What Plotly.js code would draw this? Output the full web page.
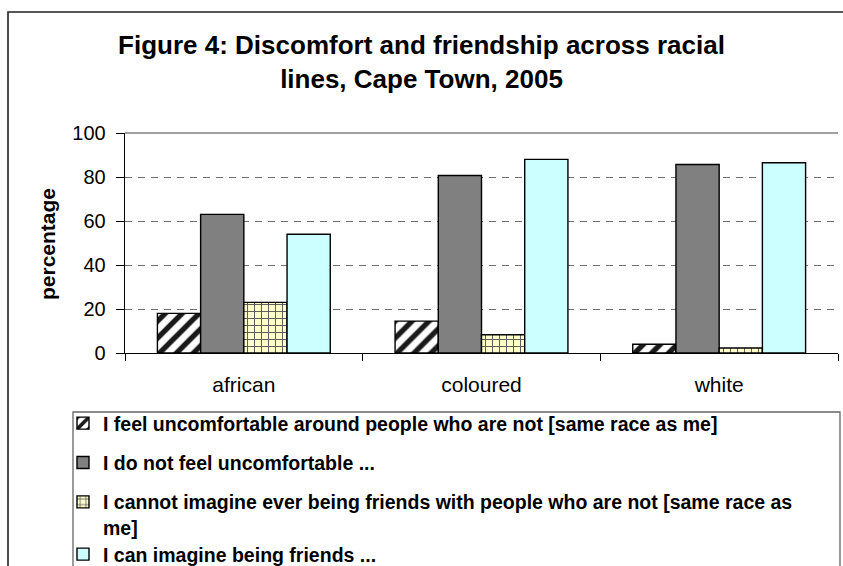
<!DOCTYPE html>
<html><head><meta charset="utf-8">
<script src="https://cdn.plot.ly/plotly-3.0.1.min.js"></script>
<style>html,body{margin:0;padding:0;background:#fff}#chart{width:843px;height:566px}</style>
</head><body><div id="chart"></div>
<script>
const categories = ["african", "coloured", "white"];
const seriesNames = [
  "I feel uncomfortable around people who are not [same race as me]",
  "I do not feel uncomfortable ...",
  "I cannot imagine ever being friends with people who are not [same race as<br>me]",
  "I can imagine being friends ..."
];
const uncomfortable = [18, 14.5, 4];
const notUncomfortable = [63, 80.7, 85.7];
const cannotImagine = [23, 8.3, 2.3];
const canImagine = [54, 88, 86.5];
const yTicks = [0, 20, 40, 60, 80, 100];
const yAxisTitle = "percentage";
const chartTitle = "Figure 4: Discomfort and friendship across racial<br>lines, Cape Town, 2005";

const FONT = "Liberation Sans, Arial, sans-serif";
const outline = {color: "#000", width: 1.4};
const groups = ["g0", "g1", "g2", "g3"];
const legendRefs = ["legend", "legend", "legend", "legend2"];

const traces = [
  {y: uncomfortable, marker: {color: "#fff", line: outline,
     pattern: {shape: "/", fgcolor: "#1a1a1a", bgcolor: "#fff", size: 12, solidity: 0.45}}},
  {y: notUncomfortable, marker: {color: "#808080", line: outline}},
  {y: cannotImagine, marker: {color: "#FFFFCC", line: outline,
     pattern: {shape: "+", fgcolor: "#555", bgcolor: "#FFFFCC", size: 7, solidity: 0.25}}},
  {y: canImagine, marker: {color: "#CCFFFF", line: outline}}
].map((t, i) => Object.assign({
  type: "bar", x: categories, name: seriesNames[i], legendgroup: groups[i],
  legend: legendRefs[i], hoverinfo: "y"
}, t));

const px = v => (v - 125) / 713;
const py = v => (353 - v) / 220;

const legendStyle = (topPx) => ({
  xref: "container", yref: "container", x: 63 / 843, y: 1 - topPx / 566,
  xanchor: "left", yanchor: "top", orientation: "v", valign: "top",
  bgcolor: "rgba(0,0,0,0)", borderwidth: 0, tracegroupgap: 11, traceorder: "grouped",
  font: {family: FONT, size: 19.5, color: "#000", weight: "bold"}
});

const layout = {
  width: 843, height: 566,
  margin: {l: 125, r: 5, t: 133, b: 213, autoexpand: false},
  paper_bgcolor: "#fff", plot_bgcolor: "#fff",
  font: {family: FONT, color: "#000", size: 19},
  barmode: "group", bargap: 0.2727, bargroupgap: 0,
  title: {
    text: "<b>" + chartTitle + "</b>",
    font: {family: FONT, size: 26, color: "#000"},
    x: 0.5, xanchor: "center", xref: "container",
    y: 1 - 54 / 566, yanchor: "top", yref: "container"
  },
  xaxis: {
    type: "category", tickson: "boundaries", ticks: "outside", ticklen: 7,
    tickcolor: "#000", tickwidth: 1, showline: true, linecolor: "#000", linewidth: 1.3,
    showgrid: false, tickangle: 0, ticklabelstandoff: 12,
    tickfont: {family: FONT, size: 21, color: "#000"},
    fixedrange: true
  },
  yaxis: {
    range: [0, 100], tickvals: yTicks, ticktext: yTicks.map(String),
    ticks: "outside", ticklen: 8, tickcolor: "#000", tickwidth: 1,
    showline: true, linecolor: "#000", linewidth: 1.3,
    showgrid: true, gridcolor: "#707070", griddash: "7px,6px", gridwidth: 1,
    zeroline: false, ticklabelstandoff: 6,
    tickfont: {family: FONT, size: 20, color: "#000"},
    fixedrange: true
  },
  annotations: [
    {text: "<b>" + yAxisTitle + "</b>", xref: "paper", yref: "paper", x: px(47), y: py(244),
     xanchor: "center", yanchor: "middle", textangle: -90, showarrow: false,
     font: {family: FONT, size: 21, color: "#000"}}
  ],
  showlegend: true,
  legend: legendStyle(404),
  legend2: legendStyle(535),
  shapes: [
    {type: "rect", xref: "paper", yref: "paper", x0: px(8), x1: px(852), y0: py(12), y1: py(580),
     line: {color: "#222", width: 1.6}, fillcolor: "rgba(0,0,0,0)", layer: "above"},
    {type: "rect", xref: "paper", yref: "paper", x0: px(73), x1: px(840), y0: py(412), y1: py(580),
     line: {color: "#666", width: 1.3}, fillcolor: "rgba(0,0,0,0)", layer: "above"},
    {type: "line", xref: "paper", yref: "paper", x0: 0, x1: 1, y0: 1, y1: 1,
     line: {color: "#808080", width: 1.3}}
  ]
};

Plotly.newPlot("chart", traces, layout, {displayModeBar: false, staticPlot: true});
</script></body></html>
